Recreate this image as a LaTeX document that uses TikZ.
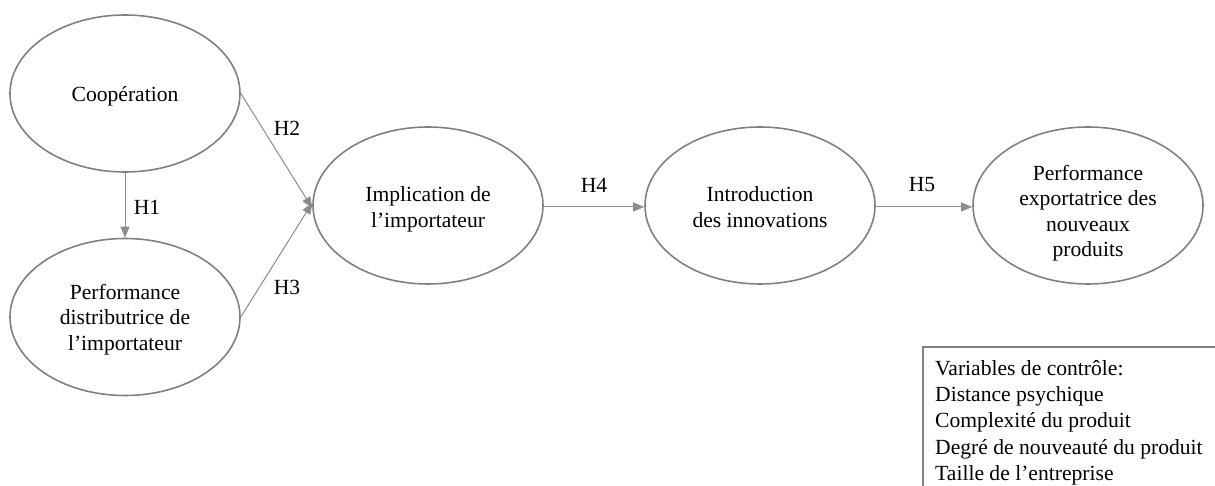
\documentclass[tikz,border=0pt]{standalone}
\usepackage{fontspec}
\setmainfont{Liberation Serif}
\usetikzlibrary{shapes.geometric,arrows.meta}
\definecolor{edgegray}{HTML}{808080}
\definecolor{arrowgray}{HTML}{8C8C8C}
\newcommand{\ctext}[2]{\raisebox{-#1pt}[\height][\depth]{\begin{tabular}{@{}c@{}}#2\end{tabular}}}
\begin{document}
\begin{tikzpicture}[x=1pt,y=-1pt,
  construct/.style={ellipse,draw=edgegray,line width=1.6pt,minimum width=230pt,minimum height=157pt,inner sep=0pt,font=\fontsize{21.6}{25.5}\selectfont},
  link/.style={draw=arrowgray,line width=1pt,-{Triangle[length=11pt,width=9pt]}},
  hlabel/.style={font=\fontsize{21.6}{25}\selectfont,inner sep=0pt},
  boxline/.style={draw=edgegray,line width=1.4pt},
  ctrlbox/.style={anchor=north west,align=left,inner xsep=12pt,inner ysep=13pt,font=\fontsize{21.6}{26.3}\selectfont}]
\useasboundingbox (0,0) rectangle (1215,486);
\clip (0,0) rectangle (1215,486);
\node[construct] (coop) at (125,93.5) {\ctext{3}{Coopération}};
\node[construct] (perfd) at (125,317) {\ctext{2.5}{Performance\\distributrice de\\l'importateur}};
\node[construct] (impl) at (428,205.5) {\ctext{4}{Implication de\\l'importateur}};
\node[construct] (intro) at (760,205.5) {\ctext{4}{Introduction\\des innovations}};
\node[construct] (perfe) at (1088,205.5) {\ctext{8}{Performance\\exportatrice des\\nouveaux\\produits}};
\node[ctrlbox] (ctrl) at (923,347) {Variables de contrôle:\\Distance psychique\\Complexité du produit\\Degré de nouveauté du produit\\Taille de l'entreprise};
\draw[boxline] (ctrl.north west |- 0,500) -- (ctrl.north west) -- (ctrl.north west -| 1230,0);
\coordinate (implA) at ([yshift=-2.5pt]impl.west);
\coordinate (implB) at ([yshift=2.5pt]impl.west);
\draw[link] (coop.south) -- (perfd.north);
\draw[link] (coop.east) -- (implA);
\draw[link] (perfd.east) -- (implB);
\draw[link] (impl.east |- 0,207) -- (intro.west |- 0,207);
\draw[link] (intro.east |- 0,207) -- (perfe.west |- 0,207);
\node[hlabel] (h1) at (147,207) {H1};
\node[hlabel] (h2) at (287,128) {H2};
\node[hlabel] (h3) at (287,287) {H3};
\node[hlabel] (h4) at (594,185) {H4};
\node[hlabel] (h5) at (922,185) {H5};
\end{tikzpicture}
\end{document}
